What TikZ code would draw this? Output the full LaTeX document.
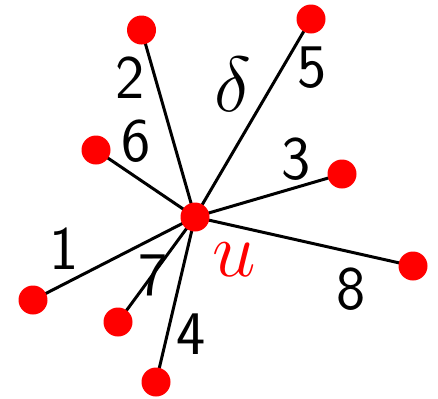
\documentclass[tikz,border=0pt]{standalone}
\usepackage{graphicx}
\begin{document}
\begin{tikzpicture}[x=0.5pt,y=-0.5pt,
  vtx/.style={circle,fill=red,inner sep=0pt,minimum size=14.5pt},
  edge/.style={line width=1.5pt,black},
  num/.style={font=\fontsize{31}{31}\selectfont\sffamily,inner sep=0pt},
  mlab/.style={font=\Huge,inner sep=0pt}]
\useasboundingbox (0,0) rectangle (438,398);
\coordinate (u) at (195,217);
\coordinate (a2) at (141.5,30);
\coordinate (a5) at (311,19);
\coordinate (a6) at (96,150);
\coordinate (a3) at (342,174);
\coordinate (a8) at (413,266);
\coordinate (a1) at (33,300);
\coordinate (a7) at (118,322);
\coordinate (a4) at (156,382);
\foreach \t in {a2,a5,a6,a3,a8,a1,a7,a4} \draw[edge] (u) -- (\t);
\node[num] (l1) at (64,249) {1};
\node[num] (l2) at (130,78) {2};
\node[num] (l3) at (296,159) {3};
\node[num] (l4) at (191,334) {4};
\node[num] (l5) at (312,68) {5};
\node[num] (l6) at (136,141) {6};
\node[num] (l7) at (153,275) {7};
\node[num] (l8) at (351,289) {8};
\node[mlab] (ld) at (233,84) {\scalebox{1.57}{$\delta$}};
\node[mlab,text=red] (lu) at (234,260) {\scalebox{1.57}{$u$}};
\foreach \t in {u,a2,a5,a6,a3,a8,a1,a7,a4} \node[vtx] (n\t) at (\t) {};
\end{tikzpicture}
\end{document}
